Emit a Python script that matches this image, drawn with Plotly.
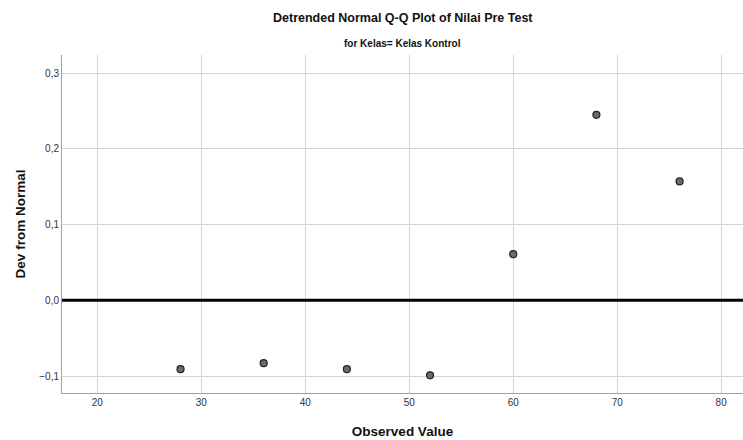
import plotly.graph_objects as go

observed = [28, 36, 44, 52, 60, 68, 76]
dev = [-0.091, -0.083, -0.091, -0.099, 0.061, 0.245, 0.157]
x_ticks = [20, 30, 40, 50, 60, 70, 80]
y_ticks = [-0.1, 0.0, 0.1, 0.2, 0.3]

font = "Liberation Sans, Arial, sans-serif"

fig = go.Figure()
fig.add_trace(go.Scatter(
    x=[16.6, 82.1], y=[0, 0], mode="lines",
    line=dict(color="black", width=3), hoverinfo="skip", showlegend=False))
fig.add_trace(go.Scatter(
    x=observed, y=dev, mode="markers",
    marker=dict(size=7, color="#6b6b6b", line=dict(color="#222222", width=1.2)),
    showlegend=False))

plot_h = 440 - 55 - 47
def paper_y(ypix):
    return (393 - ypix) / plot_h

fig.update_layout(
    width=743, height=440,
    margin=dict(l=62, r=0, t=55, b=47),
    paper_bgcolor="white", plot_bgcolor="white",
    separators=",.",
    font=dict(family=font, color="#333333"),
    annotations=[
        dict(text="<b>Detrended Normal Q-Q Plot of Nilai Pre Test</b>",
             xref="paper", yref="paper", x=0.5, y=paper_y(18), xanchor="center", yanchor="middle",
             showarrow=False, font=dict(size=12.5, color="#111111", family=font)),
        dict(text="<b>for Kelas= Kelas Kontrol</b>",
             xref="paper", yref="paper", x=0.5, y=paper_y(44), xanchor="center", yanchor="middle",
             showarrow=False, font=dict(size=10, color="#111111", family=font)),
    ],
    xaxis=dict(
        range=[16.6, 82.1], tickvals=x_ticks, tickformat="d",
        showgrid=True, gridcolor="#d4d4d4", gridwidth=1,
        showline=True, linecolor="#a0a0a0", linewidth=1,
        zeroline=False, ticks="", tickfont=dict(size=10, color="#333333"),
        title=dict(text="<b>Observed Value</b>", font=dict(size=13.5, color="#111111"), standoff=19)),
    yaxis=dict(
        range=[-0.1224, 0.324], tickvals=y_ticks, tickformat=".1f",
        showgrid=True, gridcolor="#d4d4d4", gridwidth=1,
        showline=True, linecolor="#a0a0a0", linewidth=1,
        zeroline=False, ticks="", tickfont=dict(size=10, color="#333333"),
        title=dict(text="<b>Dev from Normal</b>", font=dict(size=13.5, color="#111111"), standoff=10)),
)

fig.write_html("out.html")
